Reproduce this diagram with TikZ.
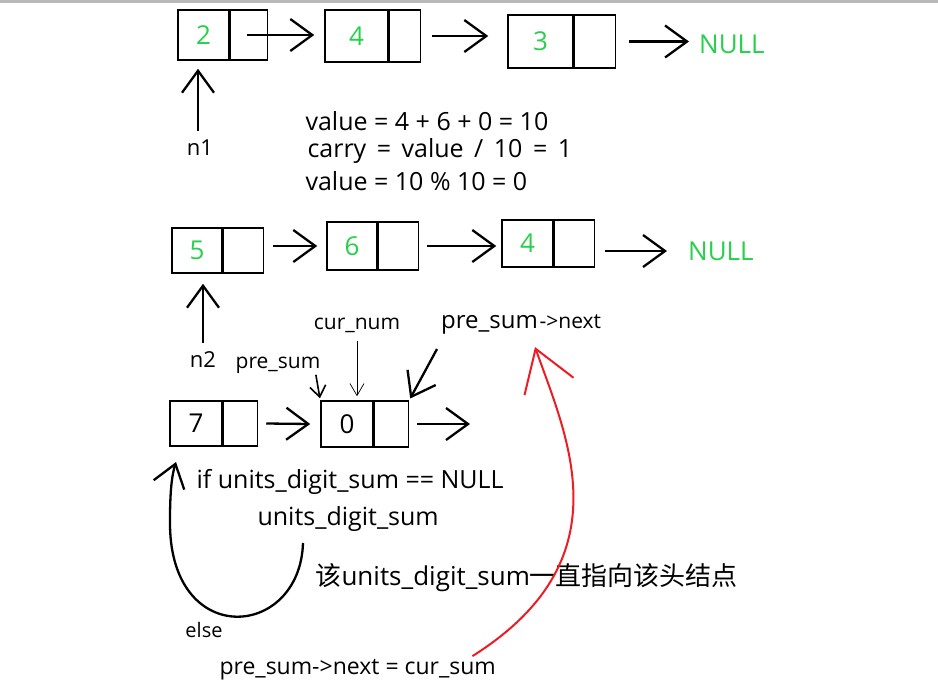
\documentclass[tikz,border=0pt]{standalone}
\usepackage{fontspec}
\setmainfont{Open Sans}
\newfontfamily\cjk{Noto Sans CJK SC}
\usetikzlibrary{arrows.meta}
\definecolor{numgreen}{RGB}{38,208,74}
\definecolor{topbar}{RGB}{185,185,185}
\definecolor{penred}{RGB}{237,28,36}

\begin{document}
\begin{tikzpicture}[x=1pt,y=-1pt,
    cell/.style={draw,line width=1.5pt,inner sep=0pt,font=\fontsize{26}{26}\selectfont,text=numgreen},
    ptr/.style={draw,line width=1.5pt,inner sep=0pt,anchor=west},
    hand/.style={line width=2.3pt,-{Straight Barb[length=22pt,width=32pt]}},
    smallhand/.style={line width=1.6pt,-{Straight Barb[length=11pt,width=16pt]}},
    thinptr/.style={line width=0.7pt,-{Straight Barb[length=12pt,width=14pt]}},
    redpen/.style={draw=penred,line width=2pt,-{Straight Barb[length=40pt,width=52pt]}},
    namelbl/.style={font=\fontsize{22}{22}\selectfont},
    lbl/.style={font=\fontsize{25}{25}\selectfont},
    smalllbl/.style={font=\fontsize{21}{21}\selectfont}]
        \useasboundingbox (0,0) rectangle (938,686);
        \fill[topbar] (0,0) rectangle (938,3);

        \node[cell,minimum width=51pt,minimum height=50pt] (v2) at (203.5,35) {2};
        \node[ptr,minimum width=37pt,minimum height=50pt] (p2) at (v2.east) {};
        \node[cell,minimum width=63pt,minimum height=52pt] (v4) at (356.5,36) {4};
        \node[ptr,minimum width=31pt,minimum height=52pt] (p4) at (v4.east) {};
        \node[cell,minimum width=65pt,minimum height=53pt] (v3) at (540.5,41.5) {3};
        \node[ptr,minimum width=41pt,minimum height=53pt] (p3) at (v3.east) {};
        \node[anchor=west,inner sep=0pt,text=numgreen,font=\fontsize{26}{26}\selectfont] (null1) at (699,44) {NULL};
        \draw[hand] ([xshift=-2pt]p2.center) -- ([xshift=-10pt]v4.west |- p2.center);
        \draw[hand] ([xshift=11pt]p4.east) -- ([xshift=-19pt]v3.west |- p4.east);
        \draw[hand] ([xshift=13pt]p3.east) -- ([xshift=-10pt]null1.west |- p3.east);

        \node[namelbl] (n1) at (200,148) {n1};
        \draw[hand,shorten <=6pt,shorten >=8pt] ([xshift=-2pt]n1.north) -- ([xshift=-2pt]n1.north |- v2.south);

        \node[lbl,anchor=west] (calc1) at (302,121) {value = 4 + 6 + 0 = 10};
        \node[lbl,anchor=west] (calc2) at (304,151) {\spaceskip=0.42em carry = value / 10 = 1};
        \node[lbl,anchor=west] (calc3) at (302,181) {value = 10 \% 10 = 0};

        \node[cell,minimum width=50pt,minimum height=45pt] (v5) at (197,250.5) {5};
        \node[ptr,minimum width=40pt,minimum height=45pt] (p5) at (v5.east) {};
        \node[cell,minimum width=50pt,minimum height=48pt] (v6) at (352,246) {6};
        \node[ptr,minimum width=40pt,minimum height=48pt] (p6) at (v6.east) {};
        \node[cell,minimum width=51pt,minimum height=47pt] (v4b) at (527.5,243.5) {4};
        \node[ptr,minimum width=40pt,minimum height=47pt] (p4b) at (v4b.east) {};
        \node[anchor=west,inner sep=0pt,text=numgreen,font=\fontsize{26}{26}\selectfont] (null2) at (688,251) {NULL};
        \draw[hand] ([xshift=9pt]p5.east |- v6.west) -- ([xshift=-9pt]v6.west);
        \draw[hand] ([xshift=8pt]p6.east) -- ([xshift=-5pt]v4b.west |- p6.east);
        \draw[hand] ([xshift=10pt]p4b.east |- null2.west) -- ([xshift=-21pt]null2.west);

        \node[namelbl] (n2) at (203,360) {n2};
        \draw[hand,shorten <=6pt,shorten >=10pt] (n2.north) -- (n2.north |- v5.south);

        \node[cell,text=black,minimum width=52pt,minimum height=45pt] (v7) at (196,423.5) {7};
        \node[ptr,minimum width=34pt,minimum height=45pt] (p7) at (v7.east) {};
        \node[cell,text=black,minimum width=52pt,minimum height=46pt] (v0) at (347,424) {0};
        \node[ptr,minimum width=34pt,minimum height=46pt] (p0) at (v0.east) {};
        \coordinate (tail0) at (470,424);
        \draw[hand] ([xshift=8pt]p7.east) -- ([xshift=-10pt]v0.west);
        \draw[hand] ([xshift=8pt]p0.east) -- (tail0);

        \node[smalllbl] (curnum) at (357,325) {cur\_num};
        \draw[thinptr,shorten <=5pt,shorten >=4pt] (curnum.south) -- (curnum.south |- v0.north);
        \node[smalllbl] (presum) at (278,365) {pre\_sum};
        \draw[smallhand,shorten >=2pt] ([xshift=-8pt,yshift=2pt]presum.south east) -- (v0.north west);
        \node[anchor=west,inner sep=0pt] (psn) at (441,324) {{\fontsize{24}{24}\selectfont pre\_sum}\,{\fontsize{21}{21}\selectfont ->next}};
        \draw[hand,shorten >=2pt] ([xshift=-4pt,yshift=-25pt]psn.west) -- (p0.north east);

        \node[lbl,anchor=west] (ifnull) at (193,482) {if units\_digit\_sum == NULL};
        \node[lbl,anchor=west] (uds) at (254,519) {units\_digit\_sum};
        \node[font=\fontsize{26}{26}\selectfont,anchor=west] (head) at (312,578) {{\cjk 该}units\_digit\_sum{\cjk 一直指向该头结点}};
        \node[font=\fontsize{20}{20}\selectfont] (else) at (204,630) {else};
        \node[font=\fontsize{23}{23}\selectfont,anchor=west] (psc) at (216,670) {pre\_sum->next = cur\_sum};

        \coordinate (uBend) at (303,543);
        \coordinate (elseTip) at (176,462);
        \draw[hand] (uBend) .. controls (300,640) and (168,650) .. (170,520) .. controls (170,490) and (172,475) .. (elseTip);

        \coordinate (redTip) at (535,347);
        \draw[redpen] ([xshift=-27pt]psc.north east) .. controls (625,560) and (568,440) .. (redTip);
    \end{tikzpicture}
\end{document}
